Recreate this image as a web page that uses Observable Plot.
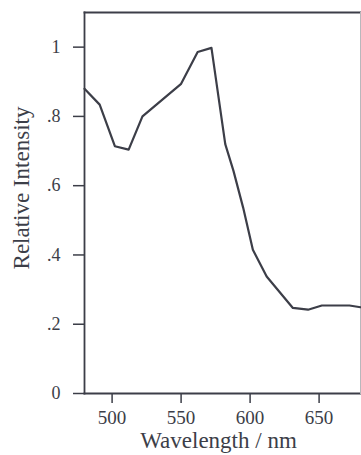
<!DOCTYPE html>
<html>
<head>
<meta charset="utf-8">
<script src="https://cdn.jsdelivr.net/npm/d3@7"></script>
<script src="https://cdn.jsdelivr.net/npm/@observablehq/plot@0.6"></script>
<style>
  html, body { margin: 0; padding: 0; background: #fff; }
  #chart { width: 361px; height: 455px; }
  #chart svg, #chart svg text { font-family: "Liberation Serif", "Times New Roman", serif !important; }
</style>
</head>
<body>
<div id="chart"></div>
<script>
const wavelength = [480, 491, 502, 512, 522, 550, 562, 572, 582, 588, 595, 602, 612, 631, 642, 652, 672, 680];
const intensity  = [0.880, 0.834, 0.714, 0.704, 0.800, 0.894, 0.986, 0.998, 0.720, 0.642, 0.536, 0.415, 0.338, 0.247, 0.242, 0.254, 0.254, 0.249];
const xTicks = [500, 550, 600, 650];
const yTicks = [0, 0.2, 0.4, 0.6, 0.8, 1];
const yTickLabels = ["0", ".2", ".4", ".6", ".8", "1"];
const xLabel = "Wavelength / nm";
const yLabel = "Relative Intensity";

const data = wavelength.map((w, i) => ({w, v: intensity[i]}));
const ink = "#3c3e48";
const serif = "Liberation Serif, Times New Roman, serif";

const chart = Plot.plot({
  width: 361,
  height: 455,
  marginLeft: 84,
  marginTop: 12,
  marginRight: 1,
  marginBottom: 62,
  style: {fontFamily: serif, color: ink, background: "#fff"},
  x: {domain: [480, 680]},
  y: {domain: [0, 1.1]},
  marks: [
    Plot.axisX({ticks: xTicks, tickSize: 10, tickPadding: 7, fontSize: 19, fontFamily: serif, label: null, stroke: ink, strokeWidth: 1.5}),
    Plot.axisY({ticks: yTicks, tickFormat: d => yTickLabels[yTicks.indexOf(d)], tickSize: 11, tickPadding: 13, fontSize: 18, fontFamily: serif, label: null, stroke: ink, strokeWidth: 1.5}),
    Plot.frame({anchor: "top", stroke: ink, strokeWidth: 1.8}),
    Plot.frame({anchor: "left", stroke: ink, strokeWidth: 1.8}),
    Plot.frame({anchor: "bottom", stroke: ink, strokeWidth: 1.8}),
    Plot.frame({anchor: "right", stroke: "#b8b8bc", strokeWidth: 1}),
    Plot.line(data, {x: "w", y: "v", stroke: ink, strokeWidth: 2.2, strokeLinejoin: "round"}),
    Plot.text([xLabel], {frameAnchor: "bottom", textAnchor: "middle", dy: 54, dx: -4, fontSize: 23, fontFamily: serif, fill: ink, text: d => d}),
    Plot.text([yLabel], {frameAnchor: "left", textAnchor: "middle", dx: -63, dy: -15, rotate: -90, fontSize: 23, fontFamily: serif, fill: ink, text: d => d})
  ]
});
document.getElementById("chart").appendChild(chart);
</script>
</body>
</html>
